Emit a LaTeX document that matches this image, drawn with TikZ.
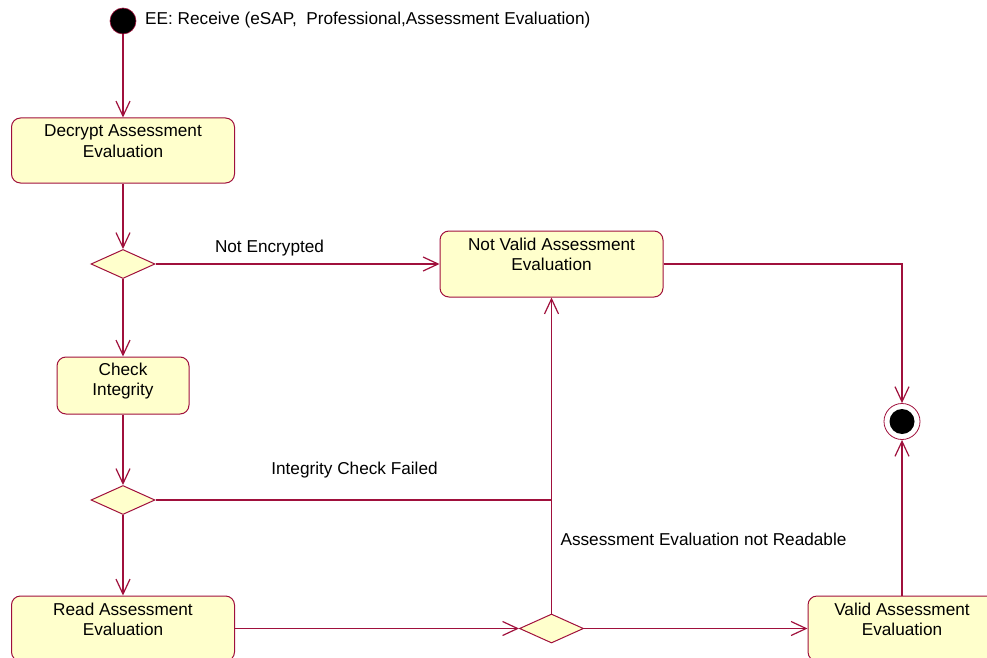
\documentclass[tikz,border=0pt]{standalone}
\usepackage{fontspec}
\setmainfont{Liberation Sans}
\usetikzlibrary{arrows.meta,shapes.geometric}
\definecolor{umlline}{RGB}{160,16,60}
\definecolor{umlfill}{RGB}{255,255,204}
\begin{document}
\begin{tikzpicture}[x=1pt,y=-1pt,
  activity/.style={draw=umlline, fill=umlfill, rounded corners=9pt, line width=1pt, inner sep=0pt},
  boxtext/.style={anchor=north, inner sep=0pt, align=center, font=\fontsize{17.2}{20.5}\selectfont, text=black},
  decision/.style={diamond, draw=umlline, fill=umlfill, line width=1pt, inner sep=0pt, minimum width=64pt, minimum height=29pt},
  flow/.style={draw=umlline, line width=1.2pt, -{Straight Barb[length=15pt,width=14pt]}},
  plainflow/.style={draw=umlline, line width=1.2pt},
  lbl/.style={anchor=base, inner sep=0pt, font=\fontsize{17.2}{20}\selectfont, text=black},
  startstate/.style={circle, draw=umlline, fill=black, minimum size=26pt, inner sep=0pt, line width=0.6pt},
  endstate/.style={circle, draw=umlline, fill=white, minimum size=36pt, inner sep=0pt, line width=0.8pt,
    path picture={\fill[black] (path picture bounding box.center) circle (12.5pt);}}
]
\clip (0,0) rectangle (987,658);
\fill[white] (0,0) rectangle (987,658);

% nodes
\node[startstate] (start) at (123,21) {};
\node[lbl, anchor=base west] (eelbl) at (145,24.5) {EE: Receive (eSAP,\ \ Professional,Assessment Evaluation)};

\node[activity, minimum width=223pt, minimum height=65pt] (decrypt) at (123,150.5) {};
\node[boxtext] (decrypttxt) at ([yshift=-7pt]decrypt.north) {Decrypt Assessment\\Evaluation};

\node[decision] (d1) at (123,264) {};

\node[activity, minimum width=223pt, minimum height=66pt] (nv) at (551.5,264) {};
\node[boxtext] (nvtxt) at ([yshift=-7pt]nv.north) {Not Valid Assessment\\Evaluation};

\node[activity, minimum width=132pt, minimum height=57pt] (check) at (123,385.5) {};
\node[boxtext] (checktxt) at ([yshift=-6pt]check.north) {Check\\Integrity};

\node[decision] (d2) at (123,500) {};

\node[activity, minimum width=223pt, minimum height=65pt] (read) at (123,628.5) {};
\node[boxtext] (readtxt) at ([yshift=-7pt]read.north) {Read Assessment\\Evaluation};

\node[decision] (d3) at (551.5,628.5) {};

\node[activity, minimum width=188pt, minimum height=65pt] (valid) at (902,628.5) {};
\node[boxtext] (validtxt) at ([yshift=-7pt]valid.north) {Valid Assessment\\Evaluation};

\node[endstate] (final) at (902,421.5) {};

% connectors
\draw[flow] (start.south) -- (decrypt.north);
\draw[flow] (decrypt.south) -- (d1.north);
\draw[flow] (d1.east) -- (nv.west);
\draw[flow] (d1.south) -- (check.north);
\draw[flow] (check.south) -- (d2.north);
\coordinate (join) at (d2.east -| nv.south);
\draw[plainflow] (d2.east) -- (join);
\draw[flow] (d2.south) -- (read.north);
\draw[flow] (read.east) -- (d3.west);
\draw[flow] (d3.north) -- (nv.south);
\draw[flow] (d3.east) -- (valid.west);
\draw[flow] (valid.north) -- (final.south);
\draw[flow] (nv.east) -| (final.north);

% labels
\node[lbl] (l1) at (269.5,252) {Not Encrypted};
\node[lbl] (l2) at (354.5,474) {Integrity Check Failed};
\node[lbl] (l3) at (703.5,545) {Assessment Evaluation not Readable};
\end{tikzpicture}
\end{document}
